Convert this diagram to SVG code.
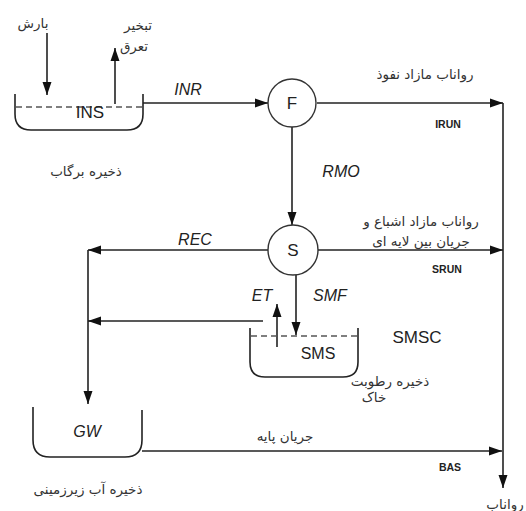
<svg xmlns="http://www.w3.org/2000/svg" width="526" height="511" viewBox="0 0 526 511">
<style>
.ln{stroke:#222;stroke-width:1.6;fill:none}
.dash{stroke:#555;stroke-width:1.4;fill:none;stroke-dasharray:6,4}
.circ{stroke:#333;stroke-width:1.4;fill:#fff}
.lat{font-family:"Liberation Sans",Arial,sans-serif;fill:#222}
.it{font-style:italic;font-size:16px}
.big{font-size:17px}
.bold{font-weight:bold;font-size:10.5px}
.fa{font-family:"DejaVu Sans","Noto Sans",sans-serif;font-size:13.5px;fill:#333}
</style>
<defs>
<marker id="ah" markerUnits="userSpaceOnUse" markerWidth="14" markerHeight="10" refX="13" refY="5" orient="auto">
<path d="M0,0.5 L13,5 L0,9.5 z" fill="#111"/>
</marker>
</defs>
<rect width="526" height="511" fill="#fff"/>
<g id="connectors">
<line class="ln" x1="47" y1="33" x2="47" y2="95" marker-end="url(#ah)"/>
<line class="ln" x1="115" y1="104" x2="115" y2="48" marker-end="url(#ah)"/>
<line class="ln" x1="143" y1="103" x2="268" y2="103" marker-end="url(#ah)"/>
<line class="ln" x1="317" y1="103" x2="503" y2="103" marker-end="url(#ah)"/>
<line class="ln" x1="503" y1="103" x2="503" y2="488" marker-end="url(#ah)"/>
<line class="ln" x1="292" y1="127" x2="292" y2="225" marker-end="url(#ah)"/>
<line class="ln" x1="318" y1="250" x2="503" y2="250" marker-end="url(#ah)"/>
<line class="ln" x1="268" y1="250" x2="88" y2="250" marker-end="url(#ah)"/>
<line class="ln" x1="88" y1="250" x2="88" y2="404" marker-end="url(#ah)"/>
<line class="ln" x1="263" y1="321" x2="88" y2="321" marker-end="url(#ah)"/>
<line class="ln" x1="277" y1="347" x2="277" y2="304" marker-end="url(#ah)"/>
<line class="ln" x1="296" y1="275" x2="296" y2="335" marker-end="url(#ah)"/>
<line class="ln" x1="142" y1="451" x2="502" y2="451" marker-end="url(#ah)"/>
</g>
<g id="INS">
<path class="ln" d="M15,94 V114 Q15,130 31,130 H127 Q143,130 143,114 V94"/>
<line class="dash" x1="16" y1="107" x2="142" y2="107"/>
<text class="lat big" x="90" y="118" text-anchor="middle" fill="#222">INS</text>
<text class="fa" x="86" y="176" text-anchor="middle">ذخیره برگاب</text>
</g>
<g id="F">
<circle class="circ" cx="292" cy="103" r="24"/>
<text class="lat big" x="292" y="109" text-anchor="middle">F</text>
</g>
<g id="S">
<circle class="circ" cx="293" cy="250" r="25"/>
<text class="lat big" x="293" y="256" text-anchor="middle">S</text>
</g>
<g id="SMS">
<path class="ln" d="M250,328 V362 Q250,377 265,377 H343 Q358,377 358,362 V328"/>
<line class="dash" x1="251" y1="336" x2="357" y2="336"/>
<text class="lat" x="318" y="359" text-anchor="middle" font-size="16">SMS</text>
<text class="lat big" x="417" y="343" text-anchor="middle">SMSC</text>
<text class="fa" x="390" y="386" text-anchor="middle">ذخیره رطوبت</text>
<text class="fa" x="374" y="402" text-anchor="middle">خاک</text>
</g>
<g id="GW">
<path class="ln" d="M33,407 V440 Q33,457 50,457 H125 Q142,457 142,440 V410"/>
<text class="lat it" x="87" y="437" text-anchor="middle">GW</text>
<text class="fa" x="88" y="494" text-anchor="middle">ذخیره آب زیرزمینی</text>
</g>
<g id="labels">
<text class="fa" x="33" y="28" text-anchor="middle">بارش</text>
<text class="fa" x="138" y="30" text-anchor="middle">تبخیر</text>
<text class="fa" x="134" y="51" text-anchor="middle">تعرق</text>
<text class="lat it" x="188" y="95" text-anchor="middle">INR</text>
<text class="fa" x="425" y="79" text-anchor="middle">رواناب مازاد نفوذ</text>
<text class="lat bold" x="448" y="128" text-anchor="middle">IRUN</text>
<text class="lat it" x="341" y="177" text-anchor="middle">RMO</text>
<text class="fa" x="421" y="226" text-anchor="middle">رواناب مازاد اشباع و</text>
<text class="fa" x="421" y="246" text-anchor="middle">جریان بین لایه ای</text>
<text class="lat bold" x="447" y="273" text-anchor="middle">SRUN</text>
<text class="lat it" x="195" y="245" text-anchor="middle">REC</text>
<text class="lat it" x="262" y="301" text-anchor="middle">ET</text>
<text class="lat it" x="330" y="301" text-anchor="middle">SMF</text>
<text class="fa" x="285" y="441" text-anchor="middle">جریان پایه</text>
<text class="lat bold" x="450" y="471" text-anchor="middle">BAS</text>
<text class="fa" x="505" y="509" text-anchor="middle">رواناب</text>
</g>
</svg>
